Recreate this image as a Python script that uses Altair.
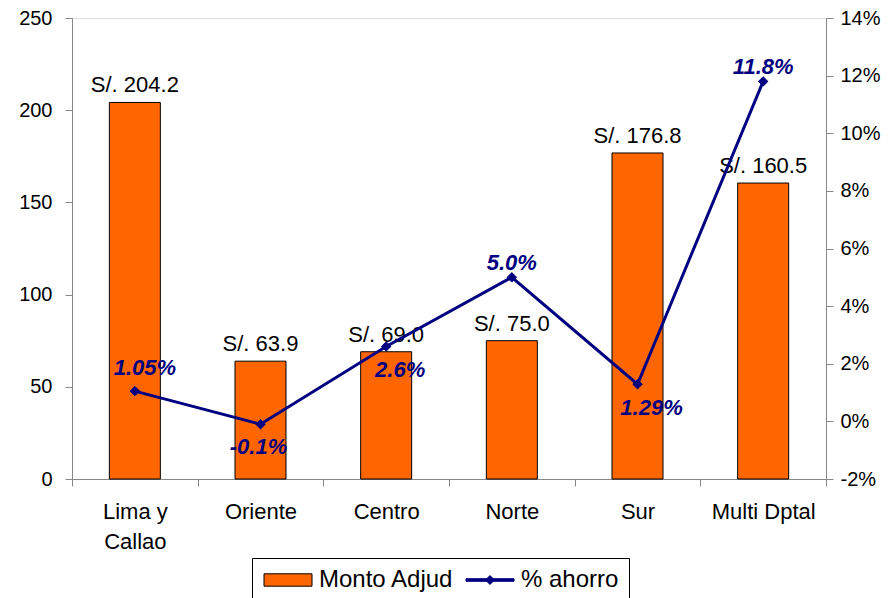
import altair as alt
import pandas as pd

categories = ["Lima y\nCallao", "Oriente", "Centro", "Norte", "Sur", "Multi Dptal"]
monto = [204.2, 63.9, 69.0, 75.0, 176.8, 160.5]
ahorro = [1.05, -0.1, 2.6, 5.0, 1.29, 11.8]
ahorro_labels = ["1.05%", "-0.1%", "2.6%", "5.0%", "1.29%", "11.8%"]
series_names = ["Monto Adjud", "% ahorro"]
left_ticks = [0, 50, 100, 150, 200, 250]
right_ticks = [-2, 0, 2, 4, 6, 8, 10, 12, 14]

ORANGE = "#FF6600"
NAVY = "#000080"
FONT = "Liberation Sans"

df = pd.DataFrame({
    "cat": categories,
    "monto": monto,
    "ahorro": ahorro,
    "alab": ahorro_labels,
})
df["mlab"] = ["S/. " + f"{v:.1f}" for v in monto]

rect_path = "M-2.4,-0.62H2.4V0.62H-2.4Z"
line_path = "M-2.4,-0.13H2.4V0.13H-2.4Z M0,-0.45L0.45,0L0,0.45L-0.45,0Z"

legend = alt.Legend(
    orient="none", legendX=180, legendY=540, direction="horizontal",
    symbolSize=400, symbolOffset=14, labelOffset=19, columnPadding=10,
    padding=10, strokeColor="black", fillColor="white",
    labelFontSize=24, labelFont=FONT, labelColor="black",
    symbolStrokeWidth=1, symbolOpacity=1,
)

fill_scale = alt.Scale(domain=series_names, range=[ORANGE, NAVY])
stroke_scale = alt.Scale(domain=series_names, range=["black", NAVY])
shape_scale = alt.Scale(domain=series_names, range=[rect_path, line_path])

x_enc = alt.X(
    "cat:N", sort=categories, title=None,
    scale=alt.Scale(paddingInner=0, paddingOuter=0),
    axis=alt.Axis(
        labelExpr="split(datum.label, '\\n')", labelAngle=0,
        labelFontSize=22, labelLineHeight=30, labelPadding=15,
        tickSize=7, tickBand="extent",
    ),
)

y_left = alt.Y(
    "monto:Q", title=None, scale=alt.Scale(domain=[0, 250]),
    axis=alt.Axis(
        orient="left", values=left_ticks, tickSize=7, labelPadding=13,
        labelFontSize=20, grid=False,
    ),
)

y_right = alt.Y(
    "ahorro:Q", title=None, scale=alt.Scale(domain=[-2, 14]),
    axis=alt.Axis(
        orient="right", values=right_ticks, tickSize=7, labelPadding=7,
        labelFontSize=20, grid=False, labelExpr="datum.value + '%'",
    ),
)

fill_enc = alt.Fill("series:N", scale=fill_scale, legend=legend, title=None)
stroke_enc = alt.Stroke("series:N", scale=stroke_scale, legend=legend, title=None)

base = alt.Chart(df)

bars = base.transform_calculate(series="'Monto Adjud'").mark_bar(
    size=51, strokeWidth=1
).encode(x=x_enc, y=y_left, fill=fill_enc, stroke=stroke_enc)

bar_text = base.mark_text(
    baseline="alphabetic", align="center", dy=-10, fontSize=22, font=FONT, color="black"
).encode(x=x_enc, y=y_left, text="mlab:N")

left = alt.layer(bars, bar_text)

line = base.transform_calculate(series="'% ahorro'").mark_line(strokeWidth=3).encode(
    x=x_enc, y=y_right, stroke=stroke_enc
)
points = base.transform_calculate(series="'% ahorro'").mark_point(
    shape="diamond", filled=True, size=90, opacity=1, strokeWidth=1
).encode(x=x_enc, y=y_right, fill=fill_enc, stroke=stroke_enc)

legend_shape = base.transform_filter("false").transform_calculate(series="'% ahorro'").mark_point(
    filled=True, opacity=1
).encode(
    x=x_enc, y=y_right, fill=fill_enc, stroke=stroke_enc,
    shape=alt.Shape("series:N", scale=shape_scale, legend=legend, title=None),
)

groups = [
    (["Lima y\nCallao"], 10, -16),
    (["Norte", "Multi Dptal"], 0, -7),
    (["Oriente"], -2, 30),
    (["Centro", "Sur"], 14, 31),
]
texts = []
for cats, dx, dy in groups:
    texts.append(
        base.transform_filter(alt.FieldOneOfPredicate(field="cat", oneOf=cats)).mark_text(
            baseline="alphabetic", align="center", dx=dx, dy=dy, fontSize=22,
            font=FONT, fontStyle="italic", fontWeight="bold", color=NAVY,
        ).encode(x=x_enc, y=y_right, text="alab:N")
    )

right = alt.layer(line, points, legend_shape, *texts)

chart = alt.layer(left, right).resolve_scale(y="independent").properties(
    width=754, height=461,
    padding={"left": 10, "top": 0, "right": 5, "bottom": 5},
).configure_view(stroke="#808080", strokeWidth=1).configure_axis(
    domainColor="black", tickColor="black", labelColor="black", labelFont=FONT,
    domainWidth=1, tickWidth=1,
).configure(background="white")

chart.save("out.html", embed_options={"renderer": "svg", "actions": False})
